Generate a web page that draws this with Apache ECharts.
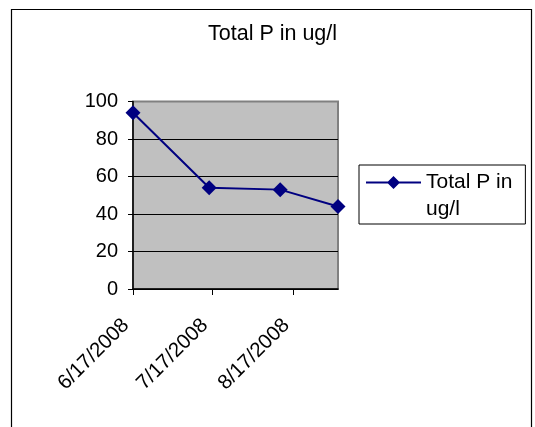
<!DOCTYPE html>
<html>
<head>
<meta charset="utf-8">
<script src="https://cdn.jsdelivr.net/npm/echarts@6/dist/echarts.min.js"></script>
<style>
html,body{margin:0;padding:0;background:#fff;overflow:hidden;}
#chart{width:535px;height:427px;}
</style>
</head>
<body>
<div id="chart"></div>
<script>
const chartTitle = 'Total P in ug/l';
const seriesName = 'Total P in ug/l';
const sampleDates = ['2008-06-17', '2008-07-16', '2008-08-12', '2008-09-03'];
const totalP = [94, 54, 53, 44];
const xTickDates = ['2008-06-17', '2008-07-17', '2008-08-17'];
const xMin = '2008-06-17';
const xMax = '2008-09-03';
const yMin = 0, yMax = 100, yInterval = 20;

function toTs(s) {
  const p = s.split('-').map(Number);
  return new Date(p[0], p[1] - 1, p[2]).getTime();
}
function fmtDate(v) {
  const d = new Date(v);
  return (d.getMonth() + 1) + '/' + d.getDate() + '/' + d.getFullYear();
}

// legend icon: line with diamond, sitting on the first text line
const legendIcon = 'path://M0 0 M55 54 M0 12.5 L55 12.5 L55 14.5 L0 14.5 Z M27.5 7 L34 13.5 L27.5 20 L21 13.5 Z';

const FONT = 'Liberation Sans, Arial, sans-serif';
const chart = echarts.init(document.getElementById('chart'), null, {renderer: 'canvas'});
chart.setOption({
  animation: false,
  backgroundColor: '#ffffff',
  textStyle: {fontFamily: FONT},
  graphic: [{
    type: 'polyline', z: 10, silent: true,
    shape: {points: [[11.5, 440], [11.5, 9.5], [531.5, 9.5], [531.5, 440]]},
    style: {fill: 'none', stroke: '#000', lineWidth: 1.2}
  }],
  title: {
    text: chartTitle, left: 208, top: 23, padding: 0,
    textStyle: {fontFamily: FONT, fontSize: 21.5, fontWeight: 'normal', color: '#000'}
  },
  legend: {
    orient: 'vertical', left: 359, top: 165,
    padding: [4, 13, 1, 7],
    borderColor: '#000', borderWidth: 1,
    itemWidth: 55, itemHeight: 54,
    icon: legendIcon,
    itemStyle: {color: '#000080'},
    formatter: function () { return 'Total P in\nug/l'; },
    textStyle: {fontFamily: FONT, fontSize: 21, color: '#000', lineHeight: 27},
    data: [seriesName]
  },
  grid: {
    left: 133, right: 197, top: 101.5, bottom: 138,
    show: true, backgroundColor: '#C0C0C0', borderColor: '#808080', borderWidth: 2
  },
  xAxis: {
    type: 'value', min: toTs(xMin), max: toTs(xMax),
    axisLine: {show: true, lineStyle: {color: '#000', width: 1.5}},
    axisTick: {show: true, customValues: xTickDates.map(toTs), length: 6, lineStyle: {color: '#000', width: 1}},
    axisLabel: {
      customValues: xTickDates.map(toTs), rotate: 45, margin: 26,
      padding: [0, 10, 0, 0],
      fontFamily: FONT, fontSize: 20.5, color: '#000',
      formatter: fmtDate
    },
    splitLine: {show: false}
  },
  yAxis: {
    type: 'value', min: yMin, max: yMax, interval: yInterval,
    axisLine: {show: true, lineStyle: {color: '#000', width: 1.5}},
    axisTick: {show: true, length: 5, lineStyle: {color: '#000'}},
    axisLabel: {margin: 15, fontFamily: FONT, fontSize: 20, color: '#000'},
    splitLine: {show: true, lineStyle: {color: ['#000', '#000', '#000', '#000', '#000', '#808080'], width: 1}}
  },
  series: [{
    name: seriesName, type: 'line',
    data: sampleDates.map((d, i) => [toTs(d), totalP[i]]),
    symbol: 'diamond', symbolSize: 15,
    lineStyle: {color: '#000080', width: 2},
    itemStyle: {color: '#000080'},
    clip: false
  }]
});
</script>
</body>
</html>
